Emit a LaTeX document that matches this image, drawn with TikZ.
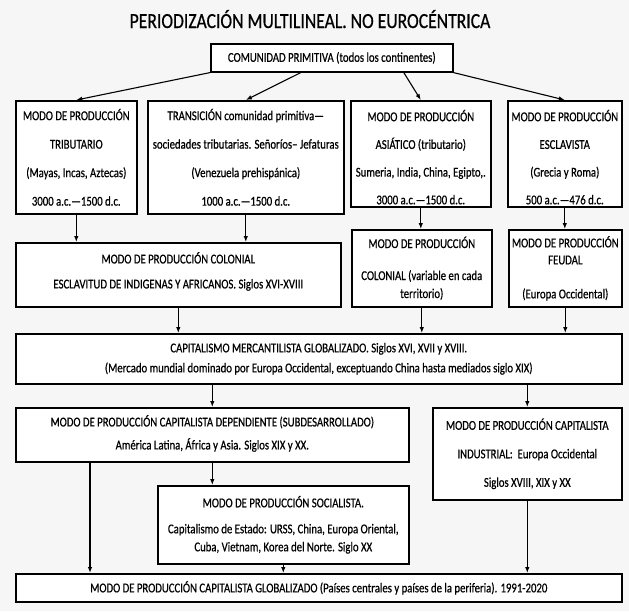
\documentclass[tikz,border=0pt]{standalone}
\usepackage{fontspec}
\setmainfont{Carlito}[FakeStretch=0.795, FakeBold=0.6]
\newfontfamily\titlefont{Carlito}[FakeStretch=0.82, FakeBold=0.6]
\usetikzlibrary{arrows.meta}
\definecolor{fondo}{rgb}{0.965,0.965,0.965}

\begin{document}
\begin{tikzpicture}[
  x=1pt, y=-1pt,
  caja/.style={draw=black, fill=white, line width=1.6pt, align=center,
    inner sep=0pt, anchor=north west,
    font=\fontsize{13.5}{18}\selectfont},
  flecha/.style={-{Latex[length=6pt,width=4.5pt]}, line width=1.1pt, black}
]

% ── Background and frame ────────────────────────────────────────
\fill[fondo] (0,0) rectangle (629,611);
\useasboundingbox (0,0) rectangle (629,611);

% ── Title ───────────────────────────────────────────────────────
\node[anchor=base, inner sep=0pt, font=\titlefont\fontsize{21.5}{25}\selectfont]
  (titulo) at (310,28) {PERIODIZACIÓN MULTILINEAL. NO EUROCÉNTRICA};

% ── Row 1: common origin ────────────────────────────────────────
\node[caja, minimum width=242pt, minimum height=28pt] (com) at (210,43)
  {COMUNIDAD PRIMITIVA (todos los continentes)};

% ── Row 2: four branches ────────────────────────────────────────
\node[caja, minimum width=121pt, minimum height=113pt] (trib) at (15,100)
  {MODO DE PRODUCCIÓN\\[10.5pt] TRIBUTARIO\\[10.5pt]
   (Mayas, Incas, Aztecas)\\[10.5pt] 3000 a.c.—1500 d.c.};
\node[caja, minimum width=196pt, minimum height=113pt] (trans) at (147,100)
  {TRANSICIÓN comunidad primitiva—\\[10.5pt]
   sociedades tributarias. Señoríos– Jefaturas\\[10.5pt]
   (Venezuela prehispánica)\\[10.5pt] 1000 a.c.—1500 d.c.};
\node[caja, minimum width=140pt, minimum height=106pt] (asi) at (350,100)
  {\rule{0pt}{18pt}MODO DE PRODUCCIÓN\\[9.7pt] ASIÁTICO (tributario)\\[9.7pt]
   Sumeria, India, China, Egipto,.\\[9.7pt] 3000 a.c.—1500 d.c.};
\node[caja, minimum width=114pt, minimum height=106pt] (escl) at (507,100)
  {\rule{0pt}{18pt}MODO DE PRODUCCIÓN\\[9.7pt] ESCLAVISTA\\[9.7pt]
   (Grecia y Roma)\\[9.7pt] 500 a.c.—476 d.c.};

% ── Row 3: colonial and feudal modes ────────────────────────────
\node[caja, minimum width=325pt, minimum height=64pt] (colb) at (15,242)
  {MODO DE PRODUCCIÓN COLONIAL\\[7pt]
   ESCLAVITUD DE INDIGENAS Y AFRICANOS. Siglos XVI-XVIII\rule[-9pt]{0pt}{9pt}};
\node[caja, minimum width=140pt, minimum height=77pt] (colv) at (351,229)
  {MODO DE PRODUCCIÓN\\[14pt] COLONIAL (variable en cada\\ territorio)};
\node[caja, minimum width=113pt, minimum height=77pt] (feud) at (508,229)
  {MODO DE PRODUCCIÓN\\[-1pt] FEUDAL\\[16pt] (Europa Occidental)};

% ── Row 4: mercantile capitalism ────────────────────────────────
\node[caja, minimum width=606pt, minimum height=50pt] (cap) at (15,333)
  {CAPITALISMO MERCANTILISTA GLOBALIZADO. Siglos XVI, XVII y XVIII.\\[2pt]
   (Mercado mundial dominado por Europa Occidental, exceptuando China hasta mediados siglo XIX)};

% ── Row 5: dependent, industrial, socialist ─────────────────────
\node[caja, minimum width=393pt, minimum height=54pt] (dep) at (15,407)
  {MODO DE PRODUCCIÓN CAPITALISTA DEPENDIENTE (SUBDESARROLLADO)\\[5pt]
   América Latina, África y Asia. Siglos XIX y XX.\rule[-5pt]{0pt}{5pt}};
\node[caja, minimum width=189pt, minimum height=92pt] (ind) at (432,407)
  {MODO DE PRODUCCIÓN CAPITALISTA\\[10.5pt]
   INDUSTRIAL:\ \ Europa Occidental\\[10.5pt] Siglos XVIII, XIX y XX};
\node[caja, minimum width=251pt, minimum height=78pt] (soc) at (157,485)
  {MODO DE PRODUCCIÓN SOCIALISTA.\\[8pt]
   Capitalismo de Estado: URSS, China, Europa Oriental,\\
   Cuba, Vietnam, Korea del Norte. Siglo XX};

% ── Row 6: global capitalism ────────────────────────────────────
\node[caja, minimum width=606pt, minimum height=28pt] (glob) at (15,573)
  {MODO DE PRODUCCIÓN CAPITALISTA GLOBALIZADO (Países centrales y países de la periferia). 1991-2020};

% ── Arrows from the common origin ───────────────────────────────
\draw[flecha] (com.south west) -- (trib.north);
\draw[flecha] ([xshift=-31pt]com.south) -- (trans.north);
\draw[flecha] ([xshift=72pt]com.south) -- (asi.north);
\draw[flecha] (com.south east) -- (escl.north);

% ── Arrows row 2 → row 3 ────────────────────────────────────────
\draw[flecha] (trib.south) -- (trib.south |- colb.north);
\draw[flecha] (trans.south) -- (trans.south |- colb.north);
\draw[flecha] (asi.south) -- (asi.south |- colv.north);
\draw[flecha] (escl.south) -- (escl.south |- feud.north);

% ── Arrows row 3 → mercantile capitalism ───────────────────────
\draw[flecha] (colb.south) -- (colb.south |- cap.north);
\draw[flecha] (colv.south) -- (colv.south |- cap.north);
\draw[flecha] (feud.south) -- (feud.south |- cap.north);

% ── Arrows mercantile capitalism → row 5 ────────────────────────
\draw[flecha] (dep.north |- cap.south) -- (dep.north);
\draw[flecha] (ind.north |- cap.south) -- (ind.north);
\draw[flecha] (dep.south) -- (dep.south |- soc.north);

% ── Arrows into global capitalism ───────────────────────────────
\draw[flecha] ([xshift=75pt]dep.south west) coordinate (depbajo)
  -- (depbajo |- glob.north);
\draw[flecha] (soc.south) -- (soc.south |- glob.north);
\draw[flecha] (ind.south) -- (ind.south |- glob.north);

\end{tikzpicture}
\end{document}
